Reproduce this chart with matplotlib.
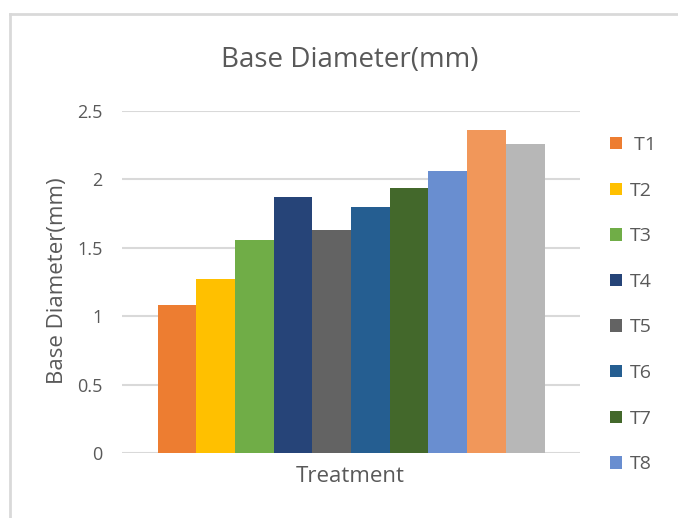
import matplotlib
matplotlib.use("Agg")
import matplotlib.pyplot as plt
from matplotlib.lines import Line2D

# Data
treatments = ["T1", "T2", "T3", "T4", "T5", "T6", "T7", "T8", "T9", "T10"]
base_diameter = [1.08, 1.27, 1.56, 1.87, 1.63, 1.80, 1.94, 2.06, 2.36, 2.26]
legend_labels = [" T1", "T2", "T3", "T4", "T5", "T6", "T7", "T8"]
colors = ["#ED7D31", "#FFC000", "#70AD47", "#264478", "#636363",
          "#255E91", "#43682B", "#698ED0", "#F1975A", "#B7B7B7"]
y_ticks = [0, 0.5, 1, 1.5, 2, 2.5]
y_tick_labels = ["0", "0.5", "1", "1.5", "2", "2.5"]

plt.rcParams["font.family"] = ["Open Sans", "DejaVu Sans"]
TEXT = "#595959"
GRID = "#D9D9D9"

W, H = 678, 518
fig = plt.figure(figsize=(W / 100, H / 100), dpi=100)
fig.patch.set_facecolor("white")

ax = fig.add_axes([122 / W, 1 - 453 / H, (580 - 122) / W, (453 - 111) / H])

n = len(treatments)
bars = []
for i, (name, val, c) in enumerate(zip(treatments, base_diameter, colors)):
    b = ax.bar(i - (n - 1) / 2, val, width=1.0, color=c, label=name, zorder=3)
    bars.append(b)

half = 458 / 387 * n / 2
ax.set_xlim(-half, half)
ax.set_ylim(0, 2.5)
ax.set_yticks(y_ticks)
ax.set_yticklabels(y_tick_labels, color=TEXT, fontsize=13)
ax.set_xticks([])
ax.tick_params(axis="y", length=0, pad=14)
ax.grid(axis="y", color=GRID, linewidth=1.5, zorder=0)
for s in ax.spines.values():
    s.set_visible(False)

fig.text(350 / W, 1 - 60 / H, "Base Diameter(mm)", ha="center", va="center",
         fontsize=20, color=TEXT)
fig.text(57 / W, 1 - 281 / H, "Base Diameter(mm)", ha="center", va="center",
         rotation=90, fontsize=16, color=TEXT)
fig.text(350 / W, 1 - 476 / H, "Treatment", ha="center", va="center",
         fontsize=16, color=TEXT)

fig.legend([b[0] for b in bars[:8]], legend_labels, loc="upper left",
           bbox_to_anchor=(610 / W, 1 - 136 / H), frameon=False,
           fontsize=14, labelcolor=TEXT, handlelength=0.6, handleheight=0.6,
           handletextpad=0.4, labelspacing=1.42, borderaxespad=0, borderpad=0)

# Chart area border
fig.add_artist(Line2D([10 / W, 10 / W], [0, 1 - 14 / H], transform=fig.transFigure,
                      color=GRID, linewidth=2))
fig.add_artist(Line2D([10 / W, 1], [1 - 14 / H, 1 - 14 / H], transform=fig.transFigure,
                      color=GRID, linewidth=2))

fig.savefig("out.png", dpi=100)
